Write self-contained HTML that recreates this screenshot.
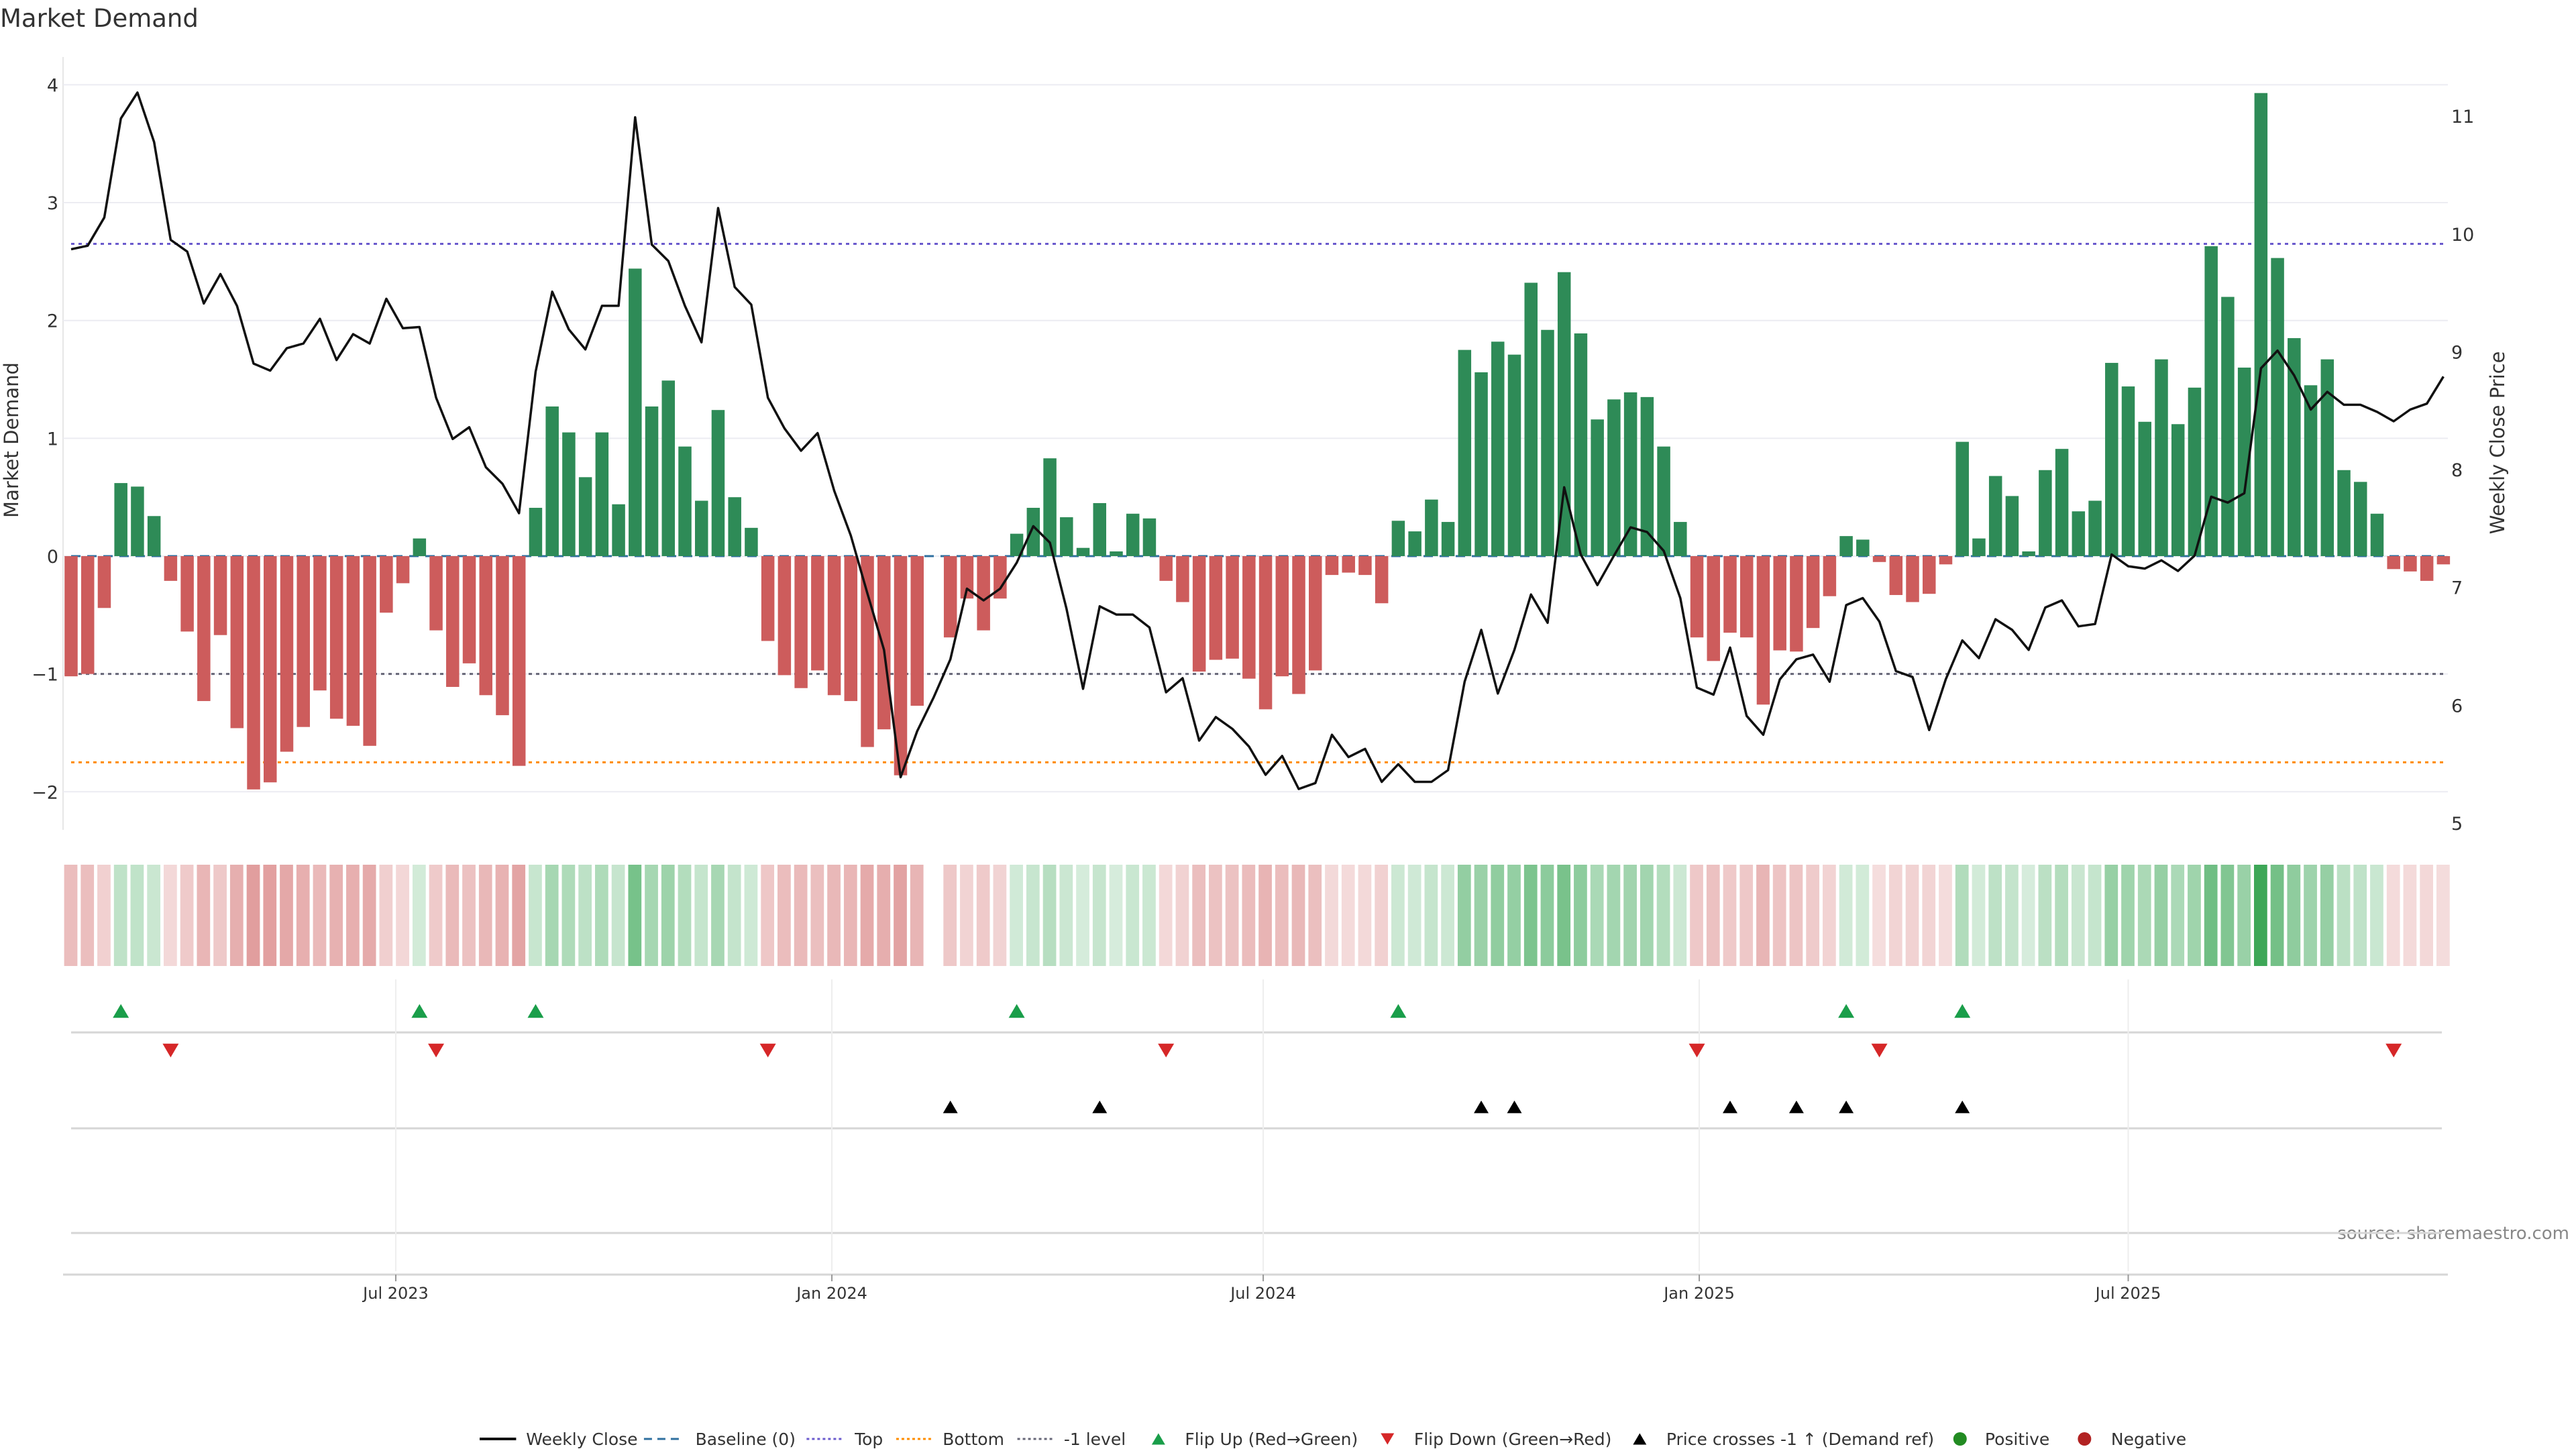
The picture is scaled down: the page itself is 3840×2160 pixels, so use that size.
<!DOCTYPE html>
<html><head><meta charset="utf-8"><style>
html,body{margin:0;padding:0;background:#fff;}
svg{display:block;font-family:"DejaVu Sans","Liberation Sans",sans-serif;}
</style></head><body>
<svg id="chart" width="3840" height="2160" viewBox="0 0 3840 2160" xmlns="http://www.w3.org/2000/svg">
<rect width="3840" height="2160" fill="#fff"/>
<text x="0" y="40" font-size="37" fill="#333">Market Demand</text>
<text transform="translate(27,656) rotate(-90)" text-anchor="middle" font-size="29" fill="#333">Market Demand</text>
<text transform="translate(3733,660) rotate(-90)" text-anchor="middle" font-size="29" fill="#333">Weekly Close Price</text>
<text x="3830" y="1847" text-anchor="end" font-size="26" fill="#888">source: sharemaestro.com</text>
<g id="grid"></g><g id="levels"></g><g id="bars"></g><g id="priceg"></g><g id="heat"></g><g id="markers"></g><g id="xaxis"></g><g id="legend"></g>
</svg>
<script>
const demand = [-1.02,-1.0,-0.44,0.62,0.59,0.34,-0.21,-0.64,-1.23,-0.67,-1.46,-1.98,-1.92,-1.66,-1.45,-1.14,-1.38,-1.44,-1.61,-0.48,-0.23,0.15,-0.63,-1.11,-0.91,-1.18,-1.35,-1.78,0.41,1.27,1.05,0.67,1.05,0.44,2.44,1.27,1.49,0.93,0.47,1.24,0.50,0.24,
-0.72,-1.01,-1.12,-0.97,-1.18,-1.23,-1.62,-1.47,-1.86,-1.27,0,-0.69,-0.36,-0.63,-0.36,0.19,0.41,0.83,0.33,0.07,0.45,0.04,0.36,0.32,-0.21,-0.39,-0.98,-0.88,-0.87,-1.04,-1.3,-1.02,-1.17,-0.97,-0.16,-0.14,-0.16,-0.4,0.3,0.21,0.48,0.29,1.75,1.56,1.82,1.71,2.32,1.92,2.41,1.89,1.16,1.33,1.39,1.35,0.93,0.29,
-0.69,-0.89,-0.65,-0.69,-1.26,-0.8,-0.81,-0.61,-0.34,0.17,0.14,-0.05,-0.33,-0.39,-0.32,-0.07,0.97,0.15,0.68,0.51,0.04,0.73,0.91,0.38,0.47,1.64,1.44,1.14,1.67,1.12,1.43,2.63,2.2,1.6,3.93,2.53,1.85,1.45,1.67,0.73,0.63,0.36,-0.11,-0.13,-0.21,-0.07];
const price = [9.87,9.90,10.14,10.98,11.20,10.78,9.95,9.85,9.41,9.66,9.39,8.90,8.84,9.03,9.07,9.28,8.93,9.15,9.07,9.45,9.20,9.21,8.61,8.26,8.36,8.02,7.88,7.63,8.83,9.51,9.19,9.02,9.39,9.39,10.99,9.91,9.77,9.39,9.08,10.22,9.55,9.40,8.61,8.35,8.16,8.31,7.82,7.44,6.95,
6.47,5.39,5.78,6.07,6.39,6.99,6.89,6.99,7.21,7.52,7.38,6.82,6.14,6.84,6.77,6.77,6.66,6.11,6.23,5.70,5.90,5.80,5.65,5.41,5.57,5.29,5.34,5.75,5.56,5.63,5.35,5.50,5.35,5.35,5.45,6.20,6.64,6.10,6.47,6.94,6.70,7.85,7.28,7.02,7.27,7.51,7.47,7.31,6.91,6.15,6.09,
6.49,5.91,5.75,6.22,6.39,6.43,6.20,6.85,6.91,6.71,6.29,6.24,5.79,6.22,6.55,6.40,6.73,6.64,6.47,6.83,6.89,6.67,6.69,7.28,7.18,7.16,7.23,7.14,7.27,7.77,7.72,7.80,8.86,9.01,8.80,8.51,8.66,8.55,8.55,8.49,8.41,8.51,8.56,8.79];
const demandTicks = [4,3,2,1,0,-1,-2];
const priceTicks = [11,10,9,8,7,6,5];
const levelTop = 2.65;
const levelBottom = -1.75;
const levelMinus1 = -1;
const priceRef = 6.27;
const dateTicks = ["2023-07-01","2024-01-01","2024-07-01","2025-01-01","2025-07-01"];
const dateLabels = ["Jul 2023","Jan 2024","Jul 2024","Jan 2025","Jul 2025"];
const startDate = "2023-02-14";

const NS="http://www.w3.org/2000/svg";
function mk(tag,attrs,parent){const e=document.createElementNS(NS,tag);for(const k in attrs)e.setAttribute(k,attrs[k]);parent.appendChild(e);return e;}
const X0=106, STEP=24.73, BW=19.5;
const xs=i=>X0+i*STEP;
const yd=d=>829-d*175.65;
const yp=p=>1227-(p-5)*175.65;
const xDate=s=>X0+((new Date(s)-new Date(startDate))/86400000/7)*STEP;
const L=94,R=3649;

const grid=document.getElementById('grid');
mk('line',{x1:L,y1:85,x2:L,y2:1237,stroke:'#e6e6e6','stroke-width':2},grid);
demandTicks.forEach(t=>{
  const g=mk('line',{x1:L,y1:yd(t),x2:R,y2:yd(t),stroke:'#ececf2','stroke-width':2},grid);
  
  
  const tx=mk('text',{x:87,y:yd(t)+10,'text-anchor':'end','font-size':27,fill:'#333'},grid);
  tx.textContent=String(t).replace('-','\u2212');
  
  
});
priceTicks.forEach(t=>{
  const tx=mk('text',{x:3654,y:yp(t)+10,'font-size':27,fill:'#333'},grid);
  tx.textContent=t;
  
  
});

const lv=document.getElementById('levels');
function level(v,color,dash,name){const l=mk('line',{x1:X0,y1:yd(v),x2:R-5,y2:yd(v),stroke:color,'stroke-width':3,'stroke-dasharray':dash},lv);

}
level(0,'#2f6f9f','14 10','baseline-zero');
level(levelTop,'#6a5acd','5 6','top-level-line');
level(levelBottom,'#ff8c00','5 6','bottom-level-line');
level(levelMinus1,'#666677','5 6','minus-one-level-line');

const bars=document.getElementById('bars');
demand.forEach((d,i)=>{
  if(d===0)return;
  const y=Math.min(yd(0),yd(d)),h=Math.abs(yd(d)-yd(0));
  const b=mk('rect',{x:xs(i)-BW/2,y:y,width:BW,height:h,fill:d>0?'#2e8b57':'#cd5c5c'},bars);
  
  
});

const pg=document.getElementById('priceg');
const pl=mk('polyline',{points:price.map((p,i)=>xs(i).toFixed(1)+','+yp(p).toFixed(1)).join(' '),fill:'none',stroke:'#111','stroke-width':3.5,'stroke-linejoin':'round'},pg);



const heat=document.getElementById('heat');
demand.forEach((d,i)=>{
  if(d===0)return;
  const a=Math.min(1,0.2+0.2*Math.abs(d));
  const c=d>0?[58,166,85]:[205,92,92];
  const col='rgb('+c.map(v=>Math.round(255-a*(255-v))).join(',')+')';
  const r=mk('rect',{x:xs(i)-STEP/2+2,y:1289,width:STEP-5,height:151,fill:col},heat);
  
  
});

const mg=document.getElementById('markers');
[1539,1682,1838].forEach(y=>{const l=mk('line',{x1:X0,y1:y,x2:3640,y2:y,stroke:'#d6d6d6','stroke-width':3},mg);

});
dateTicks.forEach(s=>{const x=xDate(s);const l=mk('line',{x1:x,y1:1460,x2:x,y2:1895,stroke:'#eeeeee','stroke-width':2},mg);

});
function tri(x,y,up,color,s){const h=s*0.85;return mk('path',{d:up?`M${x-s/2},${y+h/2}L${x+s/2},${y+h/2}L${x},${y-h/2}Z`:`M${x-s/2},${y-h/2}L${x+s/2},${y-h/2}L${x},${y+h/2}Z`,fill:color},mg);}
for(let i=1;i<demand.length;i++){
  if(demand[i]>0&&demand[i-1]<0){const t=tri(xs(i),1507,true,'#1a9e4a',24);
    
    }
  if(demand[i]<0&&demand[i-1]>0){const t=tri(xs(i),1566,false,'#d62728',24);
    
    }
  if(price[i]>priceRef&&price[i-1]<=priceRef){const t=tri(xs(i),1650,true,'#000',22);
    
    }
}

const xa=document.getElementById('xaxis');
mk('line',{x1:L,y1:1900,x2:R,y2:1900,stroke:'#d6d6d6','stroke-width':3},xa);
dateTicks.forEach((s,k)=>{const x=xDate(s);
  mk('line',{x1:x,y1:1900,x2:x,y2:1910,stroke:'#999','stroke-width':2},xa);
  const t=mk('text',{x:x,y:1936,'text-anchor':'middle','font-size':24,fill:'#333'},xa);
  t.textContent=dateLabels[k];
  
  });

const lg=document.getElementById('legend');
const ly=2145,f=2.474;
function ltext(dx,txt){const t=mk('text',{x:dx*f,y:ly+9,'font-size':25,fill:'#333'},lg);t.textContent=txt;
  
  return t;}
function lline(x1,x2,color,dash,w){const l=mk('line',{x1:x1*f,y1:ly,x2:x2*f,y2:ly,stroke:color,'stroke-width':w,'stroke-dasharray':dash},lg);
  
  }
lline(289,311,'#111','none',4);ltext(317,'Weekly Close');
lline(388,411,'#2f6f9f','12 8',3);ltext(419,'Baseline (0)');
lline(486,507,'#6a5acd','4 4',3);ltext(515,'Top');
lline(540,561,'#ff8c00','4 4',3);ltext(568,'Bottom');
lline(613,634,'#666677','4 4',3);ltext(641,'-1 level');
function ltri(dx,up,c){const x=dx*f,s=20,h=17;const p=mk('path',{d:up?`M${x-s/2},${ly+h/2}L${x+s/2},${ly+h/2}L${x},${ly-h/2}Z`:`M${x-s/2},${ly-h/2}L${x+s/2},${ly-h/2}L${x},${ly+h/2}Z`,fill:c},lg);
  
  }
ltri(698,true,'#1a9e4a');ltext(714,'Flip Up (Red\u2192Green)');
ltri(836,false,'#d62728');ltext(852,'Flip Down (Green\u2192Red)');
ltri(988,true,'#000');ltext(1004,'Price crosses -1 \u2191 (Demand ref)');
function lcirc(dx,c){const e=mk('circle',{cx:dx*f,cy:ly,r:10,fill:c},lg);
  
  }
lcirc(1181,'#228b22');ltext(1196,'Positive');
lcirc(1256,'#b22222');ltext(1272,'Negative');
</script>
</body></html>
